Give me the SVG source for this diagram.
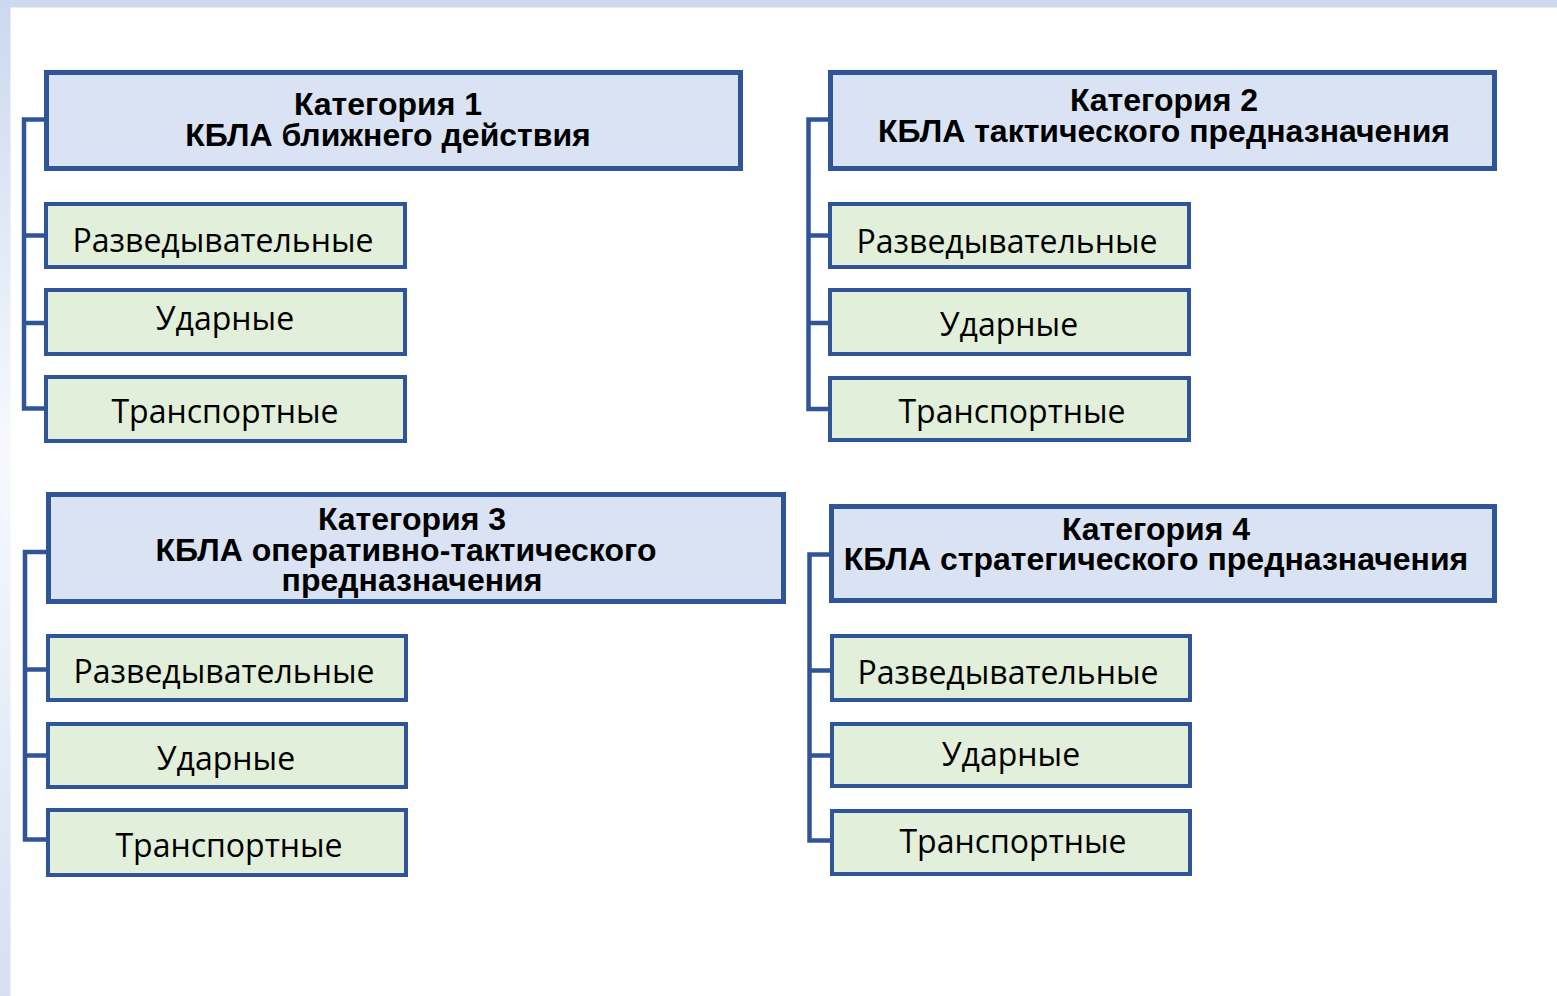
<svg xmlns="http://www.w3.org/2000/svg" width="1557" height="996" viewBox="0 0 1557 996">
<defs>
<linearGradient id="side" x1="0" y1="0" x2="0" y2="1">
<stop offset="0" stop-color="#cbd8ee"/>
<stop offset="0.45" stop-color="#f7f9fd"/>
<stop offset="1" stop-color="#d6e0f2"/>
</linearGradient>
<style>
.hdr{fill:#dae3f3;stroke:#2f5597;stroke-width:5}
.sub{fill:#e2efda;stroke:#2f5597;stroke-width:4}
.conn{fill:none;stroke:#2f5597;stroke-width:4.5;stroke-linejoin:miter}
.ht{font-family:"Liberation Sans",Arial,sans-serif;font-weight:bold;font-size:32px;fill:#000;text-anchor:middle}
.st{font-family:"Open Sans","Noto Sans",sans-serif;font-size:32px;fill:#000;text-anchor:middle}
</style>
</defs>
<rect x="0" y="0" width="1557" height="996" fill="#ffffff"/>
<rect x="0" y="0" width="1557" height="7.5" fill="#cdd9ef"/>
<rect x="0" y="0" width="10.5" height="996" fill="url(#side)"/>

<g id="connectors">
<path class="conn" d="M46,119.5 H24 V408.5 H46 M24,235.5 H46 M24,323 H46"/>
<path class="conn" d="M830,119.5 H808.5 V409 H830 M808.5,235.5 H830 M808.5,323 H830"/>
<path class="conn" d="M48,552 H25 V839.5 H48 M25,669.5 H48 M25,755.5 H48"/>
<path class="conn" d="M831,554.5 H809.5 V840.5 H831 M809.5,670.5 H831 M809.5,755.5 H831"/>
</g>

<g id="cat1">
<rect class="hdr" x="46.5" y="72.5" width="694" height="96"/>
<text class="ht" x="388" y="115">Категория 1</text>
<text class="ht" x="388" y="146">КБЛА ближнего действия</text>
</g>
<g id="cat1-recon"><rect class="sub" x="46" y="204" width="359" height="63"/><text class="st" x="223" y="252">Разведывательные</text></g>
<g id="cat1-strike"><rect class="sub" x="46" y="290" width="359" height="64"/><text class="st" x="225" y="330">Ударные</text></g>
<g id="cat1-transport"><rect class="sub" x="46" y="377" width="359" height="64"/><text class="st" x="225" y="423">Транспортные</text></g>

<g id="cat2">
<rect class="hdr" x="830.5" y="72.5" width="664" height="96"/>
<text class="ht" x="1164" y="111">Категория 2</text>
<text class="ht" x="1164" y="142">КБЛА тактического предназначения</text>
</g>
<g id="cat2-recon"><rect class="sub" x="830" y="204" width="359" height="63"/><text class="st" x="1007" y="253">Разведывательные</text></g>
<g id="cat2-strike"><rect class="sub" x="830" y="290" width="359" height="64"/><text class="st" x="1009" y="336">Ударные</text></g>
<g id="cat2-transport"><rect class="sub" x="830" y="378" width="359" height="62"/><text class="st" x="1012" y="423">Транспортные</text></g>

<g id="cat3">
<rect class="hdr" x="48.5" y="494.5" width="735" height="107"/>
<text class="ht" x="412" y="530">Категория 3</text>
<text class="ht" x="406" y="561">КБЛА оперативно-тактического</text>
<text class="ht" x="412" y="591">предназначения</text>
</g>
<g id="cat3-recon"><rect class="sub" x="48" y="636" width="358" height="64"/><text class="st" x="224" y="683">Разведывательные</text></g>
<g id="cat3-strike"><rect class="sub" x="48" y="724" width="358" height="63"/><text class="st" x="226" y="770">Ударные</text></g>
<g id="cat3-transport"><rect class="sub" x="48" y="810" width="358" height="65"/><text class="st" x="229" y="857">Транспортные</text></g>

<g id="cat4">
<rect class="hdr" x="831.5" y="506.5" width="663" height="94"/>
<text class="ht" x="1156" y="540">Категория 4</text>
<text class="ht" x="1156" y="570">КБЛА стратегического предназначения</text>
</g>
<g id="cat4-recon"><rect class="sub" x="832" y="636" width="358" height="64"/><text class="st" x="1008" y="684">Разведывательные</text></g>
<g id="cat4-strike"><rect class="sub" x="832" y="724" width="358" height="62"/><text class="st" x="1011" y="766">Ударные</text></g>
<g id="cat4-transport"><rect class="sub" x="832" y="811" width="358" height="63"/><text class="st" x="1013" y="853">Транспортные</text></g>
</svg>
